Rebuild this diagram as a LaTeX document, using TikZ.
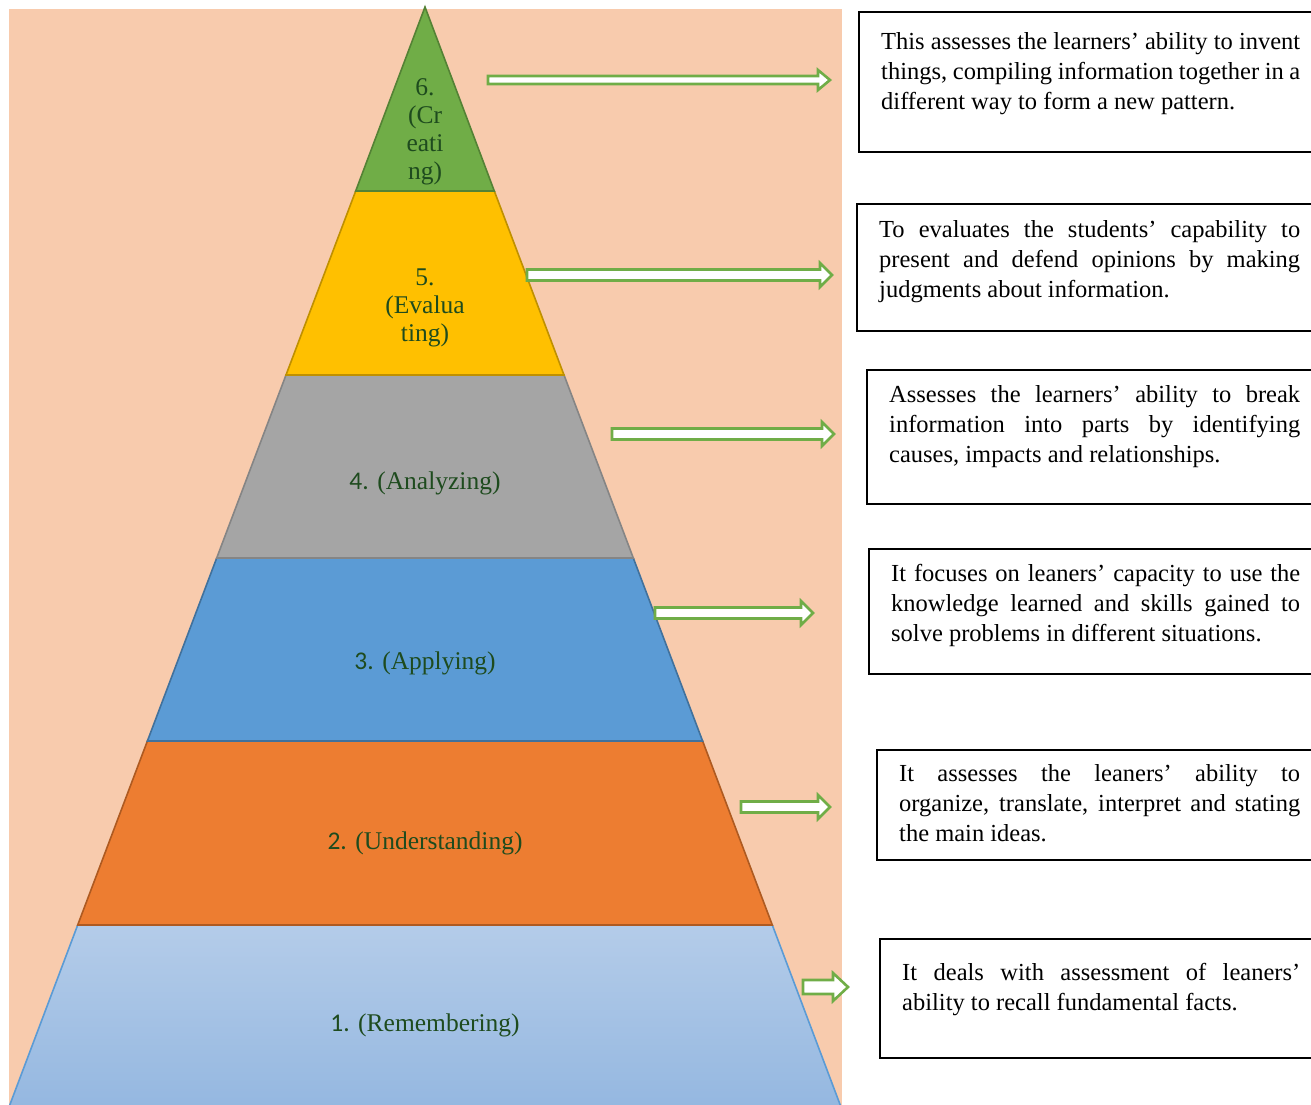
\documentclass[tikz,border=0pt]{standalone}
\usepackage{fontspec}
\setmainfont{Liberation Serif}
\newfontfamily\numfont{Carlito}
\definecolor{peach}{HTML}{F8CBAD}
\definecolor{lgreen}{HTML}{70AD47}
\definecolor{lgreenB}{HTML}{548235}
\definecolor{lyellow}{HTML}{FFC000}
\definecolor{lyellowB}{HTML}{BF9000}
\definecolor{lgray}{HTML}{A5A5A5}
\definecolor{lgrayB}{HTML}{858585}
\definecolor{lblue}{HTML}{5B9BD5}
\definecolor{lblueB}{HTML}{41719C}
\definecolor{lorange}{HTML}{ED7D31}
\definecolor{lorangeB}{HTML}{AE5A21}
\definecolor{pbtop}{HTML}{B4CCE9}
\definecolor{pbbot}{HTML}{94B7E0}
\definecolor{lbltext}{HTML}{1E4B1E}
\usetikzlibrary{calc}
\newcommand{\nohyph}{\hyphenpenalty=10000 \exhyphenpenalty=10000 \tolerance=9999 \emergencystretch=20pt}
\tikzset{
  layer/.style={line width=1.6pt, line join=miter},
  lbl/.style={text=lbltext, font=\fontsize{25.5}{28}\selectfont, align=center, inner sep=0pt},
  barrowline/.style={draw=lgreen, fill=white, line width=2.6pt, line join=miter},
  descbox/.style={draw=black, line width=2.4pt},
  desctext/.style={anchor=north west, inner sep=0pt, align=justify, font=\fontsize{24.5}{30}\selectfont\nohyph},
}
\newcommand{\blockarr}[6]{% x1, x2, y, shaft half, head half, head length
  \draw[barrowline] ({#1},{#3-#4}) -- ({#2-#6},{#3-#4}) -- ({#2-#6},{#3-#5}) -- ({#2},{#3})
    -- ({#2-#6},{#3+#5}) -- ({#2-#6},{#3+#4}) -- ({#1},{#3+#4}) -- cycle;}
\begin{document}
\begin{tikzpicture}[x=1pt,y=-1pt]
\useasboundingbox (0,0) rectangle (1311,1104);
\clip (0,0) rectangle (1311,1104);
\fill[white] (0,0) rectangle (1311,1104);
\fill[peach] (9,9) rectangle (842,1110);
% pyramid layers
\coordinate (apex) at (425,7);
\shade[top color=pbtop, bottom color=pbbot] (77.7,925) -- (772.3,925) -- (842.5,1111) -- (7.5,1111) -- cycle;
\draw[layer, draw=lblue] (77.7,925) -- (772.3,925) -- (842.5,1111) -- (7.5,1111) -- cycle;
\draw[layer, fill=lorange, draw=lorangeB] (147.4,741) -- (702.6,741) -- (772.3,925) -- (77.7,925) -- cycle;
\draw[layer, fill=lblue, draw=lblueB] (216.7,558) -- (633.3,558) -- (702.6,741) -- (147.4,741) -- cycle;
\draw[layer, fill=lgray, draw=lgrayB] (286,375) -- (564,375) -- (633.3,558) -- (216.7,558) -- cycle;
\draw[layer, fill=lyellow, draw=lyellowB] (355.7,191) -- (494.3,191) -- (564,375) -- (286,375) -- cycle;
\draw[layer, fill=lgreen, draw=lgreenB] (apex) -- (494.3,191) -- (355.7,191) -- cycle;
% labels
\node[lbl] (l6) at (425,132) {6.\\(Cr\\eati\\ng)};
\node[lbl] (l5) at (425,308) {5.\\(Evalua\\ting)};
\node[lbl] (l4) at (425,483) {{\numfont 4.} (Analyzing)};
\node[lbl] (l3) at (425,663) {{\numfont 3.} (Applying)};
\node[lbl] (l2) at (425,843) {{\numfont 2.} (Understanding)};
\node[lbl] (l1) at (425,1025) {{\numfont 1.} (Remembering)};
% arrows
\blockarr{488}{830}{80}{4}{10}{12}
\blockarr{527}{832}{275}{5.5}{12}{12}
\blockarr{612}{834}{434}{5.5}{12}{12}
\blockarr{655}{813}{613}{5.5}{12}{12}
\blockarr{741}{830}{807}{5.5}{12}{12}
\blockarr{803}{848}{987}{7}{14}{15}
% boxes
\draw[descbox] (859,12) rectangle (1340,152);
\node[desctext, text width=419pt] (t6) at (881,32) {This assesses the learners’ ability to invent things, compiling information together in a different way to form a new pattern.};
\draw[descbox] (857,204) rectangle (1340,331);
\node[desctext, text width=421pt] (t5) at (879,220) {To evaluates the students’ capability to present and defend opinions by making judgments about information.};
\draw[descbox] (867,370) rectangle (1340,504);
\node[desctext, text width=411pt] (t4) at (889,385) {Assesses the learners’ ability to break information into parts by identifying causes, impacts and relationships.};
\draw[descbox] (869,549) rectangle (1340,674);
\node[desctext, text width=409pt] (t3) at (891,564) {It focuses on leaners’ capacity to use the knowledge learned and skills gained to solve problems in different situations.};
\draw[descbox] (877,750) rectangle (1340,860);
\node[desctext, text width=401pt] (t2) at (899,764) {It assesses the leaners’ ability to\linebreak organize, translate, interpret and stating the main ideas.};
\draw[descbox] (880,939) rectangle (1340,1058);
\node[desctext, text width=398pt] (t1) at (902,963) {It deals with assessment of leaners’ ability to recall fundamental facts.};
\end{tikzpicture}
\end{document}
